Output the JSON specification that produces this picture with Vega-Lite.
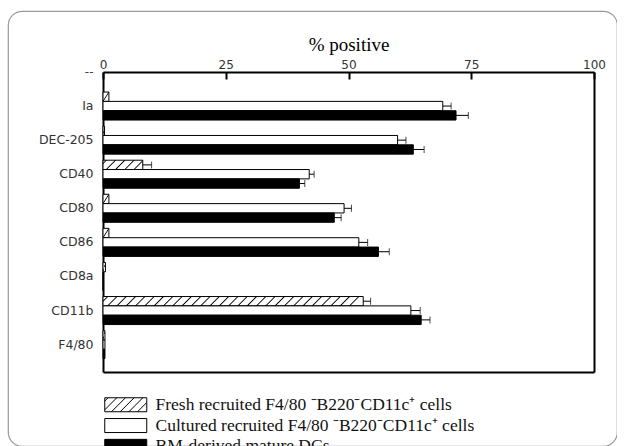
{
  "$schema": "https://vega.github.io/schema/vega-lite/v6.json",
  "width": 609,
  "height": 435,
  "autosize": {"type": "none"},
  "padding": {"left": 8, "top": 11, "right": 0, "bottom": 0},
  "background": "white",
  "config": {
    "view": {"stroke": "#9a9a9a", "strokeWidth": 1.2, "cornerRadius": 14},
    "axis": {"grid": false}
  },
  "data": {
    "values": [
      {"marker": "Ia", "series": "Fresh", "value": 1.2},
      {"marker": "Ia", "series": "Cultured", "value": 69.2, "upper": 70.9},
      {"marker": "Ia", "series": "BM", "value": 71.9, "upper": 74.4},
      {"marker": "DEC-205", "series": "Fresh", "value": 0.3},
      {"marker": "DEC-205", "series": "Cultured", "value": 60.0, "upper": 61.7},
      {"marker": "DEC-205", "series": "BM", "value": 63.2, "upper": 65.4},
      {"marker": "CD40", "series": "Fresh", "value": 8.1, "upper": 9.9},
      {"marker": "CD40", "series": "Cultured", "value": 42.0, "upper": 43.0},
      {"marker": "CD40", "series": "BM", "value": 40.0, "upper": 41.1},
      {"marker": "CD80", "series": "Fresh", "value": 1.2},
      {"marker": "CD80", "series": "Cultured", "value": 49.1, "upper": 50.6},
      {"marker": "CD80", "series": "BM", "value": 47.1, "upper": 48.5},
      {"marker": "CD86", "series": "Fresh", "value": 1.2},
      {"marker": "CD86", "series": "Cultured", "value": 52.1, "upper": 53.9},
      {"marker": "CD86", "series": "BM", "value": 56.1, "upper": 58.3},
      {"marker": "CD8a", "series": "Fresh", "value": 0.5},
      {"marker": "CD8a", "series": "Cultured", "value": 0},
      {"marker": "CD8a", "series": "BM", "value": 0},
      {"marker": "CD11b", "series": "Fresh", "value": 53.0, "upper": 54.5},
      {"marker": "CD11b", "series": "Cultured", "value": 62.7, "upper": 64.6},
      {"marker": "CD11b", "series": "BM", "value": 64.8, "upper": 66.6},
      {"marker": "F4/80", "series": "Fresh", "value": 0.4},
      {"marker": "F4/80", "series": "Cultured", "value": 0.4},
      {"marker": "F4/80", "series": "BM", "value": 0.4}
    ]
  },
  "resolve": {"axis": {"x": "independent", "y": "independent"}},
  "layer": [
    {
      "mark": {"type": "bar", "stroke": "#000000", "strokeWidth": 1},
      "encoding": {
        "x": {
          "field": "value", "type": "quantitative",
          "scale": {"domain": [0, 100], "range": [95, 586], "nice": false, "zero": true},
          "axis": {
            "orient": "top", "offset": -61, "values": [0, 25, 50, 75, 100],
            "domainColor": "#000000", "domainWidth": 2,
            "tickColor": "#000000", "tickWidth": 2, "tickSize": -7,
            "labelFont": "DejaVu Sans", "labelFontSize": 12, "labelColor": "#333333", "labelPadding": 8,
            "labelFlush": false,
            "title": "% positive", "titleFont": "Liberation Serif", "titleFontSize": 19, "titleFontWeight": "normal",
            "titleColor": "#000000", "titlePadding": 4
          }
        },
        "y": {
          "field": "marker", "type": "nominal",
          "scale": {
            "domain": ["Ia", "DEC-205", "CD40", "CD80", "CD86", "CD8a", "CD11b", "F4/80"],
            "range": [61, 361], "paddingInner": 0.178, "paddingOuter": 0.49, "align": 0.6
          },
          "axis": {
            "orient": "left", "offset": -95, "ticks": false,
            "domainColor": "#000000", "domainWidth": 2,
            "labelFont": "DejaVu Sans", "labelFontSize": 12.5, "labelColor": "#333333", "labelPadding": 10,
            "title": "--", "titleAngle": 0, "titleAlign": "right", "titleBaseline": "middle",
            "titleX": -10, "titleY": 60, "titleFont": "DejaVu Sans", "titleFontSize": 12,
            "titleFontWeight": "normal", "titleColor": "#444444"
          }
        },
        "yOffset": {
          "field": "series", "type": "nominal",
          "scale": {"domain": ["Fresh", "Cultured", "BM"], "paddingInner": 0, "paddingOuter": 0}
        },
        "fill": {
          "field": "series", "type": "nominal",
          "scale": {
            "domain": ["Fresh", "Cultured", "BM"],
            "range": [
              {"expr": "{gradient: 'linear', x1: 0, y1: 0, x2: 1.2, y2: 0.4, stops: [{offset: 0, color: '#ffffff'}, {offset: 0.042, color: '#ffffff'}, {offset: 0.06, color: '#000000'}, {offset: 0.078, color: '#ffffff'}, {offset: 0.197, color: '#ffffff'}, {offset: 0.215, color: '#000000'}, {offset: 0.233, color: '#ffffff'}, {offset: 0.352, color: '#ffffff'}, {offset: 0.37, color: '#000000'}, {offset: 0.388, color: '#ffffff'}, {offset: 0.507, color: '#ffffff'}, {offset: 0.525, color: '#000000'}, {offset: 0.543, color: '#ffffff'}, {offset: 0.662, color: '#ffffff'}, {offset: 0.68, color: '#000000'}, {offset: 0.698, color: '#ffffff'}, {offset: 0.817, color: '#ffffff'}, {offset: 0.835, color: '#000000'}, {offset: 0.853, color: '#ffffff'}, {offset: 0.972, color: '#ffffff'}, {offset: 0.99, color: '#000000'}, {offset: 1, color: '#ffffff'}]}"},
              "#ffffff",
              "#000000"
            ]
          },
          "condition": [
            {
              "test": "datum.series === 'Fresh' && datum.value > 20",
              "value": {
                "gradient": "linear", "x1": 0, "y1": 0, "x2": 1, "y2": 0.036,
                "stops": [
                  {"offset": 0, "color": "#ffffff"},
                  {"offset": 0.013, "color": "#ffffff"}, {"offset": 0.018, "color": "#000000"}, {"offset": 0.023, "color": "#ffffff"},
                  {"offset": 0.0487, "color": "#ffffff"}, {"offset": 0.0537, "color": "#000000"}, {"offset": 0.0587, "color": "#ffffff"},
                  {"offset": 0.0844, "color": "#ffffff"}, {"offset": 0.0894, "color": "#000000"}, {"offset": 0.0944, "color": "#ffffff"},
                  {"offset": 0.1201, "color": "#ffffff"}, {"offset": 0.1251, "color": "#000000"}, {"offset": 0.1301, "color": "#ffffff"},
                  {"offset": 0.1558, "color": "#ffffff"}, {"offset": 0.1608, "color": "#000000"}, {"offset": 0.1658, "color": "#ffffff"},
                  {"offset": 0.1915, "color": "#ffffff"}, {"offset": 0.1965, "color": "#000000"}, {"offset": 0.2015, "color": "#ffffff"},
                  {"offset": 0.2272, "color": "#ffffff"}, {"offset": 0.2322, "color": "#000000"}, {"offset": 0.2372, "color": "#ffffff"},
                  {"offset": 0.2629, "color": "#ffffff"}, {"offset": 0.2679, "color": "#000000"}, {"offset": 0.2729, "color": "#ffffff"},
                  {"offset": 0.2986, "color": "#ffffff"}, {"offset": 0.3036, "color": "#000000"}, {"offset": 0.3086, "color": "#ffffff"},
                  {"offset": 0.3343, "color": "#ffffff"}, {"offset": 0.3393, "color": "#000000"}, {"offset": 0.3443, "color": "#ffffff"},
                  {"offset": 0.37, "color": "#ffffff"}, {"offset": 0.375, "color": "#000000"}, {"offset": 0.38, "color": "#ffffff"},
                  {"offset": 0.4057, "color": "#ffffff"}, {"offset": 0.4107, "color": "#000000"}, {"offset": 0.4157, "color": "#ffffff"},
                  {"offset": 0.4414, "color": "#ffffff"}, {"offset": 0.4464, "color": "#000000"}, {"offset": 0.4514, "color": "#ffffff"},
                  {"offset": 0.4771, "color": "#ffffff"}, {"offset": 0.4821, "color": "#000000"}, {"offset": 0.4871, "color": "#ffffff"},
                  {"offset": 0.5128, "color": "#ffffff"}, {"offset": 0.5178, "color": "#000000"}, {"offset": 0.5228, "color": "#ffffff"},
                  {"offset": 0.5485, "color": "#ffffff"}, {"offset": 0.5535, "color": "#000000"}, {"offset": 0.5585, "color": "#ffffff"},
                  {"offset": 0.5842, "color": "#ffffff"}, {"offset": 0.5892, "color": "#000000"}, {"offset": 0.5942, "color": "#ffffff"},
                  {"offset": 0.6199, "color": "#ffffff"}, {"offset": 0.6249, "color": "#000000"}, {"offset": 0.6299, "color": "#ffffff"},
                  {"offset": 0.6556, "color": "#ffffff"}, {"offset": 0.6606, "color": "#000000"}, {"offset": 0.6656, "color": "#ffffff"},
                  {"offset": 0.6913, "color": "#ffffff"}, {"offset": 0.6963, "color": "#000000"}, {"offset": 0.7013, "color": "#ffffff"},
                  {"offset": 0.727, "color": "#ffffff"}, {"offset": 0.732, "color": "#000000"}, {"offset": 0.737, "color": "#ffffff"},
                  {"offset": 0.7627, "color": "#ffffff"}, {"offset": 0.7677, "color": "#000000"}, {"offset": 0.7727, "color": "#ffffff"},
                  {"offset": 0.7984, "color": "#ffffff"}, {"offset": 0.8034, "color": "#000000"}, {"offset": 0.8084, "color": "#ffffff"},
                  {"offset": 0.8341, "color": "#ffffff"}, {"offset": 0.8391, "color": "#000000"}, {"offset": 0.8441, "color": "#ffffff"},
                  {"offset": 0.8698, "color": "#ffffff"}, {"offset": 0.8748, "color": "#000000"}, {"offset": 0.8798, "color": "#ffffff"},
                  {"offset": 0.9055, "color": "#ffffff"}, {"offset": 0.9105, "color": "#000000"}, {"offset": 0.9155, "color": "#ffffff"},
                  {"offset": 0.9412, "color": "#ffffff"}, {"offset": 0.9462, "color": "#000000"}, {"offset": 0.9512, "color": "#ffffff"},
                  {"offset": 0.9769, "color": "#ffffff"}, {"offset": 0.9819, "color": "#000000"}, {"offset": 0.9869, "color": "#ffffff"},
                  {"offset": 1, "color": "#ffffff"}
                ]
              }
            },
            {
              "test": "datum.series === 'Fresh' && datum.value > 4",
              "value": {
                "gradient": "linear", "x1": 0, "y1": 0, "x2": 1, "y2": 0.234,
                "stops": [
                  {"offset": 0, "color": "#ffffff"},
                  {"offset": 0.05, "color": "#ffffff"}, {"offset": 0.08, "color": "#000000"}, {"offset": 0.11, "color": "#ffffff"},
                  {"offset": 0.27, "color": "#ffffff"}, {"offset": 0.30, "color": "#000000"}, {"offset": 0.33, "color": "#ffffff"},
                  {"offset": 0.49, "color": "#ffffff"}, {"offset": 0.52, "color": "#000000"}, {"offset": 0.55, "color": "#ffffff"},
                  {"offset": 0.71, "color": "#ffffff"}, {"offset": 0.74, "color": "#000000"}, {"offset": 0.77, "color": "#ffffff"},
                  {"offset": 0.93, "color": "#ffffff"}, {"offset": 0.96, "color": "#000000"}, {"offset": 0.99, "color": "#ffffff"},
                  {"offset": 1, "color": "#ffffff"}
                ]
              }
            },
            {
              "test": "datum.series === 'Fresh'",
              "value": {
                "gradient": "linear", "x1": 0, "y1": 0, "x2": 1, "y2": 1,
                "stops": [
                  {"offset": 0, "color": "#ffffff"},
                  {"offset": 0.42, "color": "#ffffff"}, {"offset": 0.5, "color": "#000000"}, {"offset": 0.58, "color": "#ffffff"},
                  {"offset": 1, "color": "#ffffff"}
                ]
              }
            }
          ],
          "legend": {
            "orient": "none", "legendX": 95, "legendY": 385, "title": null, "padding": 0,
            "symbolType": "M-1,-1H5V1H-1Z", "symbolSize": 196,
            "symbolStrokeColor": "#000000", "symbolStrokeWidth": 1, "symbolOpacity": 1,
            "labelOffset": 35, "labelFont": "Liberation Serif", "labelFontSize": 17.5, "labelColor": "#111111",
            "labelLimit": 600, "rowPadding": 1.8,
            "labelExpr": "datum.value === 'Fresh' ? 'Fresh recruited F4/80 ⁻B220⁻CD11c⁺ cells' : datum.value === 'Cultured' ? 'Cultured recruited F4/80 ⁻B220⁻CD11c⁺ cells' : 'BM-derived mature DCs'"
          }
        }
      }
    },
    {
      "transform": [{"filter": "isValid(datum.upper)"}],
      "mark": {"type": "rule", "color": "#000000", "strokeWidth": 1},
      "encoding": {
        "x": {
          "field": "value", "type": "quantitative",
          "axis": {"orient": "bottom", "offset": -74, "labels": false, "ticks": false, "title": null,
                   "domainColor": "#000000", "domainWidth": 2}
        },
        "x2": {"field": "upper"},
        "y": {
          "field": "marker", "type": "nominal",
          "axis": {"orient": "right", "offset": -23, "labels": false, "ticks": false, "title": null,
                   "domainColor": "#000000", "domainWidth": 2}
        },
        "yOffset": {"field": "series", "type": "nominal"}
      }
    },
    {
      "transform": [{"filter": "isValid(datum.upper)"}],
      "mark": {"type": "tick", "color": "#000000", "thickness": 1, "size": 7, "orient": "vertical"},
      "encoding": {
        "x": {"field": "upper", "type": "quantitative", "axis": null},
        "y": {"field": "marker", "type": "nominal", "axis": null},
        "yOffset": {"field": "series", "type": "nominal"}
      }
    }
  ]
}
